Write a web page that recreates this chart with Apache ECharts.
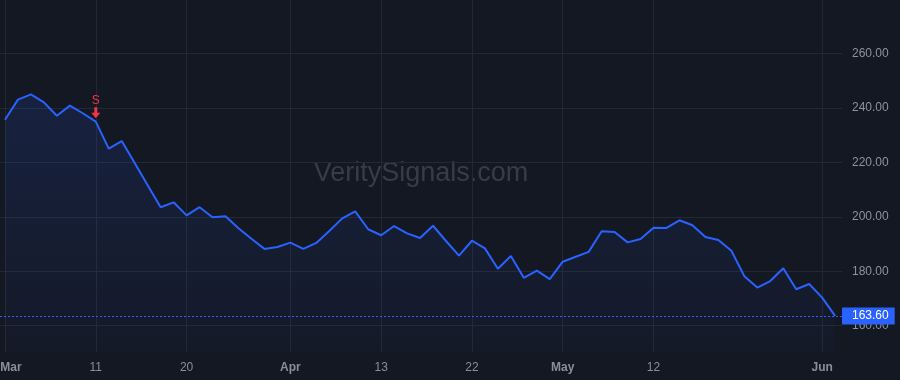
<!DOCTYPE html>
<html>
<head>
<meta charset="utf-8">
<script src="https://cdn.jsdelivr.net/npm/echarts@6.0.0/dist/echarts.min.js"></script>
<style>
  html, body { margin: 0; padding: 0; background: #141823; }
  #chart { width: 900px; height: 380px; }
</style>
</head>
<body>
<div id="chart"></div>
<script>
  // closing prices, one per session
  var prices = [
    235.6, 243.0, 244.9, 242.0, 237.1, 240.8, 238.0, 234.9, 225.0, 227.8,
    219.7, 211.6, 203.5, 205.3, 200.5, 203.5, 199.8, 200.2, 195.8, 191.9,
    188.2, 188.9, 190.5, 188.2, 190.4, 194.8, 199.4, 202.0, 195.4, 193.2,
    196.6, 193.9, 192.2, 196.7, 191.1, 185.7, 191.2, 188.4, 180.9, 185.6,
    177.6, 180.2, 177.1, 183.5, 185.3, 187.1, 194.7, 194.4, 190.6, 191.8,
    196.0, 195.9, 198.7, 196.9, 192.6, 191.5, 187.5, 178.2, 174.0, 176.4,
    181.1, 173.4, 175.3, 170.3, 163.6
  ]
  // date ticks on the time axis (session index -> label)
  var tickIdx = [0, 7, 14, 22, 29, 36, 43, 50, 63]
  var tickText = ['Mar', '11', '20', 'Apr', '13', '22', 'May', '12', 'Jun']
  var monthTicks = ['Mar', 'Apr', 'May', 'Jun']
  var priceTicks = [160, 180, 200, 220, 240, 260]
  var lastPrice = 163.6
  // sell signal
  var signalIdx = 7
  var signalText = 'S'

  var seriesData = prices.map(function (v, i) { return [i, v] })

  var myChart = echarts.init(document.getElementById('chart'))
  myChart.setOption({
    backgroundColor: '#141823',
    animation: false,
    textStyle: { fontFamily: '"Liberation Sans", Arial, sans-serif' },
    graphic: [{
      type: 'text',
      z: 0,
      style: {
        x: 421,
        y: 174,
        text: 'VeritySignals.com',
        textAlign: 'center',
        textVerticalAlign: 'middle',
        font: '27px "Liberation Sans", Arial, sans-serif',
        fill: '#383c49'
      }
    }],
    grid: {
      left: 0,
      right: 58,
      top: 0,
      bottom: 28,
      outerBoundsMode: 'none'
    },
    xAxis: {
      type: 'value',
      min: -0.385,
      max: 64.53,
      axisLine: { show: false },
      axisTick: { show: false, customValues: tickIdx },
      splitLine: { show: true, lineStyle: { color: '#242834', width: 1 } },
      axisLabel: {
        customValues: tickIdx,
        margin: 10,
        fontSize: 12,
        color: '#8b8e98',
        formatter: function (val) {
          var t = tickText[tickIdx.indexOf(Math.round(val))]
          if (t === undefined) return ''
          if (Math.round(val) === 0) return '{first|' + t + '}'
          if (monthTicks.indexOf(t) >= 0) return '{m|' + t + '}'
          return t
        },
        rich: {
          m: { fontWeight: 'bold', fontSize: 12, color: '#8b8e98' },
          first: { fontWeight: 'bold', fontSize: 12, color: '#8b8e98', padding: [0, 0, 0, 12] }
        }
      }
    },
    yAxis: {
      type: 'value',
      position: 'right',
      min: 150.35,
      max: 279.57,
      axisLine: { show: false },
      axisTick: { show: false, customValues: priceTicks },
      splitLine: { show: true, lineStyle: { color: '#242834', width: 1 } },
      axisLabel: {
        customValues: priceTicks,
        margin: 10,
        fontSize: 12,
        color: '#8f929c',
        formatter: function (v) { return v.toFixed(2) }
      }
    },
    series: [{
      type: 'line',
      data: seriesData,
      symbol: 'none',
      lineStyle: { color: '#2962ff', width: 2 },
      areaStyle: {
        color: new echarts.graphic.LinearGradient(0, 0, 0, 1, [{
          offset: 0,
          color: 'rgba(41,98,255,0.19)'
        }, {
          offset: 1,
          color: 'rgba(41,98,255,0.03)'
        }])
      },
      markLine: {
        silent: true,
        symbol: 'none',
        lineStyle: { color: '#2962ff', type: [2, 2], width: 1 },
        label: {
          show: true,
          position: 'end',
          distance: 0,
          formatter: lastPrice.toFixed(2),
          color: '#ffffff',
          fontSize: 12,
          lineHeight: 13,
          backgroundColor: '#2962ff',
          padding: [2, 6, 2, 10]
        },
        data: [{ yAxis: lastPrice }]
      },
      markPoint: {
        silent: true,
        symbol: 'path://M3,0 L6,0 L6,5 L9,5 L4.5,10 L0,5 L3,5 Z',
        symbolSize: [9, 11],
        symbolOffset: [0, -9],
        itemStyle: { color: '#f23645' },
        label: {
          show: true,
          position: 'top',
          distance: 0,
          formatter: signalText,
          color: '#f23645',
          fontSize: 12
        },
        data: [{ coord: [signalIdx, prices[signalIdx]] }]
      }
    }]
  })
</script>
</body>
</html>
